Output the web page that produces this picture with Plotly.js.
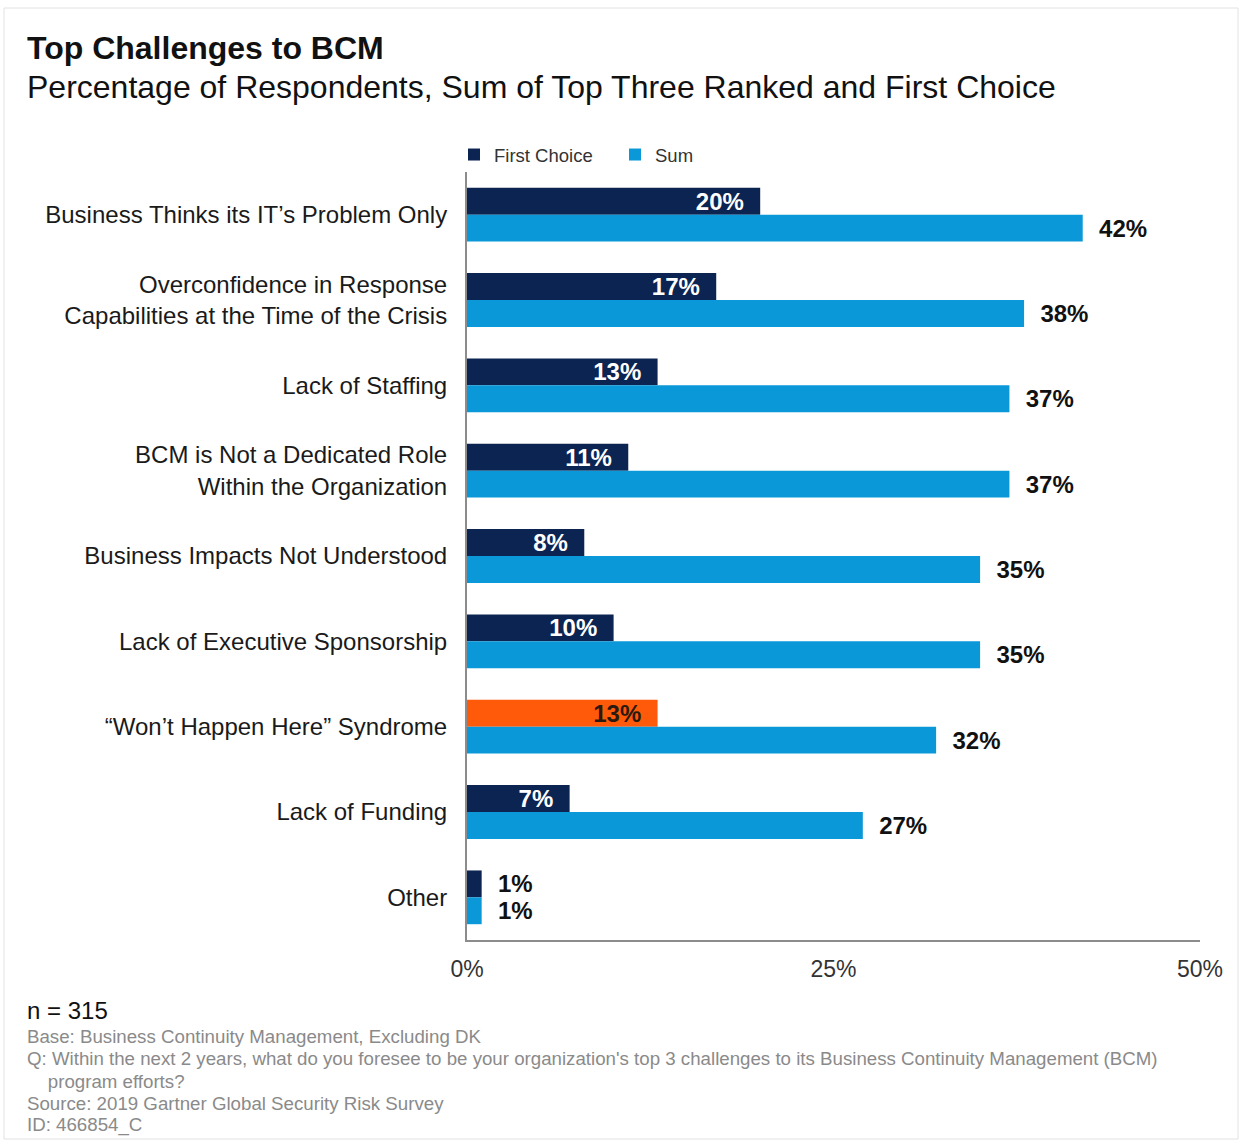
<!DOCTYPE html>
<html>
<head>
<meta charset="utf-8">
<script src="https://cdn.plot.ly/plotly-3.0.1.min.js"></script>
<style>
  html, body { margin: 0; padding: 0; background: #ffffff; }
  #chart { width: 1241px; height: 1140px; }
</style>
</head>
<body>
<div id="chart"></div>
<script>
// ---------- data ----------
const categories = [
  "Business Thinks its IT’s Problem Only",
  "Overconfidence in Response<br>Capabilities at the Time of the Crisis",
  "Lack of Staffing",
  "BCM is Not a Dedicated Role<br>Within the Organization",
  "Business Impacts Not Understood",
  "Lack of Executive Sponsorship",
  "“Won’t Happen Here” Syndrome",
  "Lack of Funding",
  "Other"
];
const firstChoice = [20, 17, 13, 11, 8, 10, 13, 7, 1];
const sumTop3 = [42, 38, 37, 37, 35, 35, 32, 27, 1];
const seriesNames = ["First Choice", "Sum"];
const highlightCategory = "“Won’t Happen Here” Syndrome";
const xTickVals = [0, 25, 50];
const xTickText = ["0%", "25%", "50%"];

const titleText = "Top Challenges to BCM";
const subtitleText = "Percentage of Respondents, Sum of Top Three Ranked and First Choice";
const sampleText = "n = 315";
const footnotes = [
  "Base: Business Continuity Management, Excluding DK",
  "Q: Within the next 2 years, what do you foresee to be your organization's top 3 challenges to its Business Continuity Management (BCM)",
  "\u00a0\u00a0\u00a0\u00a0program efforts?",
  "Source: 2019 Gartner Global Security Risk Survey",
  "ID: 466854_C"
];

// ---------- styles ----------
const NAVY = "#0b2452";
const SKY = "#0a98d8";
const ORANGE = "#ff5a0a";
const FONT = "Liberation Sans, Arial, sans-serif";

const W = 1241, H = 1140;
const M = { l: 467, r: 41, t: 172, b: 200 };
const plotW = W - M.l - M.r, plotH = H - M.t - M.b;
const px = x => (x - M.l) / plotW;
const py = y => (H - M.b - y) / plotH;

const fcColors = categories.map(c => c === highlightCategory ? ORANGE : NAVY);
const fcPos = firstChoice.map(v => v < 3 ? "outside" : "inside");
const fcTextColor = categories.map((c, i) =>
  fcPos[i] === "outside" ? "#111111" : (c === highlightCategory ? "#2a1a10" : "#ffffff"));
const fcTemplate = fcPos.map(p => p === "outside" ? "\u00a0\u00a0%{x}%" : "%{x}%\u00a0\u00a0");

const traces = [
  {
    type: "bar", orientation: "h", name: seriesNames[0],
    y: categories, x: firstChoice,
    marker: { color: fcColors },
    texttemplate: fcTemplate,
    textposition: fcPos,
    insidetextanchor: "end",
    constraintext: "none",
    cliponaxis: false,
    textfont: { family: FONT, size: 24, weight: "bold", color: fcTextColor },
    hoverinfo: "x+y"
  },
  {
    type: "bar", orientation: "h", name: seriesNames[1],
    y: categories, x: sumTop3,
    marker: { color: SKY },
    texttemplate: "\u00a0\u00a0%{x}%",
    textposition: "outside",
    constraintext: "none",
    cliponaxis: false,
    textfont: { family: FONT, size: 24, weight: "bold", color: "#111111" },
    hoverinfo: "x+y"
  }
];

const gray = "#8a8a8a";
const annotations = [
  { text: "<b>" + titleText + "</b>", x: px(25), y: py(48), font: { size: 32, color: "#111111" } },
  { text: subtitleText, x: px(25), y: py(87), font: { size: 32, color: "#111111" } },
  { text: sampleText, x: px(25), y: py(1010), font: { size: 24, color: "#111111" } }
];
const footY = [1036, 1058, 1081, 1103, 1125];
footnotes.forEach((t, i) => annotations.push({
  text: t, x: px(25), y: py(footY[i]), font: { size: 18.7, color: gray }
}));
annotations.forEach(a => Object.assign(a, {
  xref: "paper", yref: "paper", xanchor: "left", yanchor: "middle",
  showarrow: false, align: "left"
}));
annotations.forEach(a => a.font.family = FONT);

const layout = {
  width: W, height: H,
  margin: M,
  paper_bgcolor: "#ffffff", plot_bgcolor: "#ffffff",
  font: { family: FONT, color: "#111111" },
  barmode: "group",
  bargap: 0.37,
  bargroupgap: 0,
  showlegend: true,
  legend: {
    orientation: "h", x: px(454), xanchor: "left", y: py(155), yanchor: "middle",
    font: { size: 18.5, color: "#333333" },
    itemwidth: 30, entrywidth: 116, entrywidthmode: "pixels",
    traceorder: "normal", bgcolor: "rgba(0,0,0,0)"
  },
  xaxis: {
    range: [0, 50], tickvals: xTickVals, ticktext: xTickText,
    showgrid: false, zeroline: false,
    showline: true, linecolor: "#8c8c8c", linewidth: 2,
    ticks: "", ticklabelstandoff: 7,
    tickfont: { size: 23, color: "#333333" },
    fixedrange: true
  },
  yaxis: {
    autorange: "reversed", type: "category",
    showgrid: false, zeroline: false,
    showline: true, linecolor: "#8c8c8c", linewidth: 2,
    ticks: "", ticklabelstandoff: 13,
    tickfont: { size: 24, color: "#1a1a1a" },
    fixedrange: true
  },
  annotations: annotations,
  shapes: [{
    type: "rect", xref: "paper", yref: "paper",
    x0: px(4), x1: px(1238), y0: py(1139), y1: py(8),
    line: { color: "#e2e2e2", width: 1 }, fillcolor: "rgba(0,0,0,0)", layer: "below"
  }]
};

Plotly.newPlot("chart", traces, layout, { displayModeBar: false, staticPlot: true });
</script>
</body>
</html>
